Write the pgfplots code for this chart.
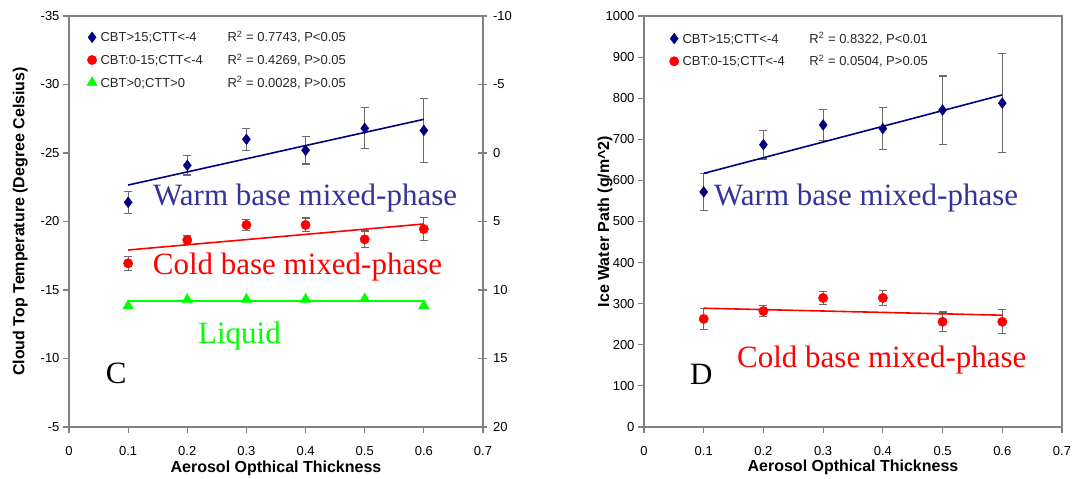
\documentclass[border=0pt]{standalone}
\usepackage{pgfplots}
\pgfplotsset{compat=1.18}
\usepackage{fontspec}
\setmainfont{Liberation Sans}
\newfontfamily\timesfont{Liberation Serif}

\definecolor{navyblue}{HTML}{000080}
\definecolor{warmtext}{HTML}{333399}
\definecolor{coldred}{HTML}{FF0000}
\definecolor{liquidgreen}{HTML}{00FF00}
\definecolor{framegray}{HTML}{808080}
\definecolor{errgray}{HTML}{6A6A6A}

\pgfplotsset{
  panel/.style={
    scale only axis, height=411pt,
    xmin=0, xmax=0.7,
    xtick={0,0.1,0.2,0.3,0.4,0.5,0.6,0.7},
    xticklabels={0,0.1,0.2,0.3,0.4,0.5,0.6,0.7},
    xtick pos=bottom, ytick pos=left,
    tick align=outside, major tick length=6pt,
    axis line style={framegray, line width=1.1pt},
    every tick/.style={framegray, line width=1.1pt},
    tick label style={font=\fontsize{13}{15}\selectfont},
    xticklabel style={yshift=-10pt},
    /pgf/number format/assume math mode=true,
    /pgf/number format/1000 sep={},
    label style={font=\bfseries\fontsize{16}{18}\selectfont},
    xlabel={Aerosol Opthical Thickness},
    xlabel style={at={(axis description cs:0.5,0)}, anchor=base, yshift=-45pt},
    legend style={draw=none, fill=none, at={(axis description cs:0,1)},
      anchor=north west, font=\fontsize{13}{15}\selectfont, text=black!85,
      row sep=10.5pt, column sep=3.3pt, inner sep=0pt, nodes={inner sep=0pt}},
    legend cell align=left,
    legend image code/.code={\path[draw=none, fill=none] (-5pt,-5pt) rectangle (5pt,5pt);
      \draw[##1] plot coordinates {(0pt,0pt)};},
    error bars/y dir=both, error bars/y explicit,
    error bars/error mark=-,
    error bars/error bar style={errgray, line width=1.2pt},
    error bars/error mark options={errgray, line width=1.2pt, mark size=4pt, rotate=90},
  },
  trend/.style={no marks, line width=1.6pt, forget plot},
}
\tikzset{
  note/.style={anchor=base west, inner sep=0pt,
    font=\timesfont\fontsize{31}{31}\selectfont},
}

% Cloud top temperature (deg C): AOT, mean, standard error
\pgfplotstableread{
x    y       e
0.1  -21.40  0.80
0.2  -24.10  0.70
0.3  -26.00  0.80
0.4  -25.20  1.00
0.5  -26.80  1.50
0.6  -26.65  2.35
}\ctwarm
\pgfplotstableread{
x    y       e
0.1  -16.95  0.50
0.2  -18.65  0.30
0.3  -19.75  0.40
0.4  -19.75  0.50
0.5  -18.70  0.60
0.6  -19.45  0.85
}\ctcold
\pgfplotstableread{
x    y
0.1  -13.85
0.2  -14.30
0.3  -14.32
0.4  -14.32
0.5  -14.35
0.6  -13.85
}\ctliquid
% Ice water path (g/m^2)
\pgfplotstableread{
x    y     e
0.1  572   45
0.2  687   35
0.3  735   38
0.4  726   51
0.5  771   83
0.6  788   121
}\iwpwarm
\pgfplotstableread{
x    y     e
0.1  263   25
0.2  282   14
0.3  314   16
0.4  314   19
0.5  256   24
0.6  256   29
}\iwpcold

\begin{document}
\begin{tikzpicture}
\useasboundingbox (-69pt,-52pt) rectangle (1008pt,427pt);

% ---- panel C: cloud top temperature ----
\begin{axis}[panel, at={(0pt,0pt)}, anchor=south west, width=414pt,
  ymin=-35, ymax=-5, y dir=reverse,
  ytick={-35,-30,-25,-20,-15,-10,-5},
  ylabel={Cloud Top Temperature (Degree Celsius)},
  ylabel style={at={(axis description cs:-0.118,0.5)}, anchor=center},
  legend style={xshift=17.7pt, yshift=-15pt},
]
\addplot[only marks, mark=diamond*, mark size=5.4pt, navyblue,
  mark options={fill=navyblue, draw=navyblue}]
  table[x=x, y=y, y error=e] {\ctwarm};
\addlegendentry{\makebox[127pt][l]{CBT>15;CTT<-4}R\textsuperscript{2} = 0.7743, P<0.05}
\addplot[only marks, mark=*, mark size=4.7pt, coldred,
  mark options={fill=coldred, draw=coldred}]
  table[x=x, y=y, y error=e] {\ctcold};
\addlegendentry{\makebox[127pt][l]{CBT:0-15;CTT<-4}R\textsuperscript{2} = 0.4269, P>0.05}
\addplot[only marks, mark=triangle*, mark size=6pt, liquidgreen,
  mark options={fill=liquidgreen, draw=liquidgreen},
  error bars/y dir=none]
  table[x=x, y=y] {\ctliquid};
\addlegendentry{\makebox[127pt][l]{CBT>0;CTT>0}R\textsuperscript{2} = 0.0028, P>0.05}
% linear fits
\addplot[trend, navyblue] coordinates {(0.1,-22.66) (0.6,-27.46)};
\addplot[trend, coldred] coordinates {(0.1,-17.92) (0.6,-19.82)};
\addplot[trend, liquidgreen] coordinates {(0.1,-14.2) (0.6,-14.2)};
\node[note, text=warmtext] at (axis cs:0.142,-21.2) {Warm base mixed-phase};
\node[note, text=coldred] at (axis cs:0.1415,-16.1) {Cold base mixed-phase};
\node[note, text=liquidgreen] at (axis cs:0.218,-11.06) {Liquid};
\node[note, text=black] at (axis cs:0.062,-8.14) {C};
\end{axis}

% secondary scale on the right of panel C
\begin{axis}[at={(0pt,0pt)}, anchor=south west, scale only axis,
  width=414pt, height=411pt, xmin=0, xmax=0.7,
  ymin=-10, ymax=20, y dir=reverse,
  axis x line=none, axis y line*=right,
  y axis line style={-, framegray, line width=1.1pt},
  ytick={-10,-5,0,5,10,15,20},
  tick align=center, major tick length=9pt,
  every tick/.style={framegray, line width=1.1pt},
  tick label style={font=\fontsize{13}{15}\selectfont},
  yticklabel style={xshift=2pt},
  /pgf/number format/assume math mode=true,
]
\addplot[draw=none] coordinates {(0.3,0)};
\end{axis}

% ---- panel D: ice water path ----
\begin{axis}[panel, at={(575pt,0pt)}, anchor=south west, width=418pt,
  ymin=0, ymax=1000,
  ytick={0,100,200,300,400,500,600,700,800,900,1000},
  ylabel={Ice Water Path (g/m\textasciicircum 2)},
  ylabel style={at={(axis description cs:-0.0933,0.5)}, anchor=center},
  legend style={xshift=25pt, yshift=-16.3pt},
]
\addplot[only marks, mark=diamond*, mark size=5.4pt, navyblue,
  mark options={fill=navyblue, draw=navyblue}]
  table[x=x, y=y, y error=e] {\iwpwarm};
\addlegendentry{\makebox[127pt][l]{CBT>15;CTT<-4}R\textsuperscript{2} = 0.8322, P<0.01}
\addplot[only marks, mark=*, mark size=4.7pt, coldred,
  mark options={fill=coldred, draw=coldred}]
  table[x=x, y=y, y error=e] {\iwpcold};
\addlegendentry{\makebox[127pt][l]{CBT:0-15;CTT<-4}R\textsuperscript{2} = 0.0504, P>0.05}
\addplot[trend, navyblue] coordinates {(0.1,617) (0.6,808)};
\addplot[trend, coldred] coordinates {(0.1,289) (0.6,272)};
\node[note, text=warmtext] at (axis cs:0.1172,540) {Warm base mixed-phase};
\node[note, text=coldred] at (axis cs:0.1557,143.6) {Cold base mixed-phase};
\node[note, text=black] at (axis cs:0.077,104.6) {D};
\end{axis}
\end{tikzpicture}
\end{document}
